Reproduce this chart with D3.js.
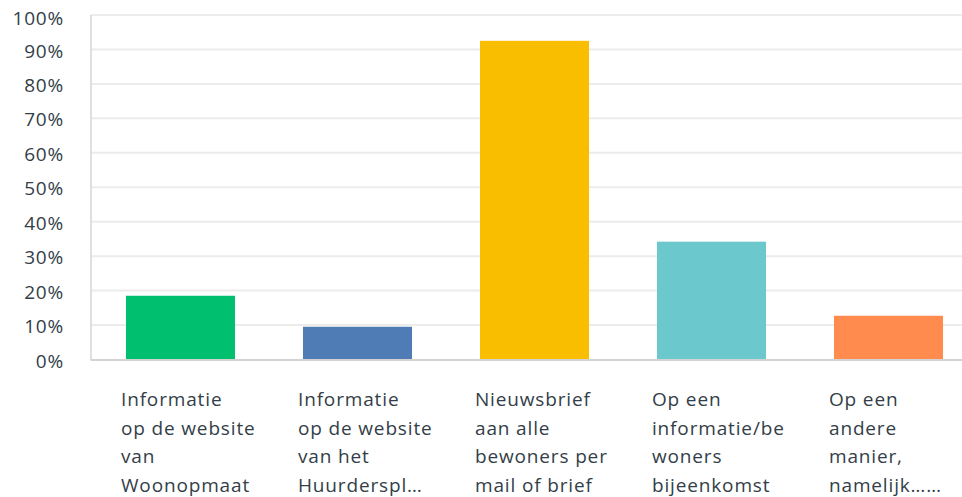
<!DOCTYPE html>
<html>
<head>
<meta charset="utf-8">
<script src="https://cdn.jsdelivr.net/npm/d3@7"></script>
<style>
  html, body { margin: 0; padding: 0; background: #fff; }
  svg { display: block; }
  text { font-family: "Open Sans", Roboto, sans-serif; fill: #333e48; }
</style>
</head>
<body>
<svg id="chart" width="962" height="497"></svg>
<script>
const categories = [
  "Informatie op de website van Woonopmaat",
  "Informatie op de website van het Huurderspl…",
  "Nieuwsbrief aan alle bewoners per mail of brief",
  "Op een informatie/bewoners bijeenkomst",
  "Op een andere manier, namelijk……"
];
const labelLines = [
  ["Informatie", "op de website", "van", "Woonopmaat"],
  ["Informatie", "op de website", "van het", "Huurderspl…"],
  ["Nieuwsbrief", "aan alle", "bewoners per", "mail of brief"],
  ["Op een", "informatie/be", "woners", "bijeenkomst"],
  ["Op een", "andere", "manier,", "namelijk……"]
];
const values = [18.5, 9.5, 92.5, 34.2, 12.7];
const colors = ["#00bf6f", "#507cb6", "#f9be00", "#6bc8cd", "#ff8b4f"];
const yTicks = [0, 10, 20, 30, 40, 50, 60, 70, 80, 90, 100];

(function () {
const svg = d3.select("#chart");
const W = 962;
const plotLeft = 91, plotTop = 15, plotBottom = 359.5;
const FONT = "'Open Sans', Roboto, sans-serif";

const x = d3.scaleBand().domain(categories).range([92, 977]).paddingInner(0.384).paddingOuter(0.192);
const y = d3.scaleLinear().domain([0, 100]).range([plotBottom, plotTop]);

// gridlines
svg.append("g").selectAll("line").data(yTicks.filter(d => d > 0)).join("line")
  .attr("x1", plotLeft).attr("x2", W)
  .attr("y1", d => y(d)).attr("y2", d => y(d))
  .attr("stroke", "#ececec").attr("stroke-width", 2);

// y axis labels
const yAxis = d3.axisLeft(y).tickValues(yTicks).tickFormat(d => d + "%").tickSize(0).tickPadding(0);
const gy = svg.append("g").attr("transform", "translate(64,0)").call(yAxis);
gy.select(".domain").remove();
gy.selectAll("text")
  .style("font-family", FONT)
  .style("font-size", "19px").style("fill", "#333e48")
  .style("letter-spacing", "0.8px")
  .attr("dy", (d) => d === 100 ? "0.52em" : "0.4em");

// bars
svg.append("g").selectAll("rect").data(values).join("rect")
  .attr("x", (d, i) => x(categories[i]))
  .attr("width", x.bandwidth())
  .attr("y", d => y(d))
  .attr("height", d => y(0) - y(d))
  .attr("fill", (d, i) => colors[i]);

// axis lines
svg.append("line").attr("x1", plotLeft).attr("x2", plotLeft).attr("y1", plotTop).attr("y2", plotBottom + 1)
  .attr("stroke", "#d6d6d6").attr("stroke-width", 1.5);
svg.append("line").attr("x1", plotLeft).attr("x2", W).attr("y1", plotBottom + 0.5).attr("y2", plotBottom + 0.5)
  .attr("stroke", "#d3d3d3").attr("stroke-width", 2);

// category labels
const lg = svg.append("g");
categories.forEach((c, i) => {
  const t = lg.append("text")
    .attr("x", x(c) - 5)
    .attr("y", 406)
    .style("font-family", FONT)
    .style("font-size", "19px")
    .style("letter-spacing", "0.85px");
  labelLines[i].forEach((ln, j) => {
    t.append("tspan").attr("x", x(c) - 5).attr("y", 406 + j * 28.6).text(ln);
  });
});
})();
</script>
</body>
</html>
